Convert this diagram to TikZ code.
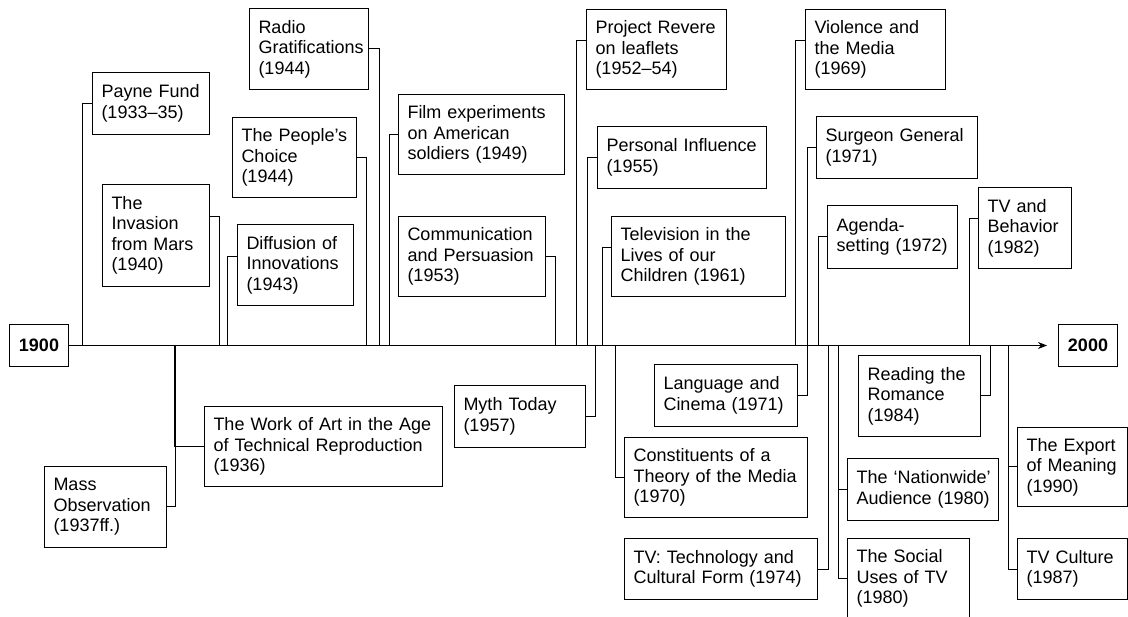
\documentclass[tikz,border=0pt]{standalone}
\usepackage{fontspec}
\setmainfont{Liberation Sans}
\usetikzlibrary{arrows.meta}

\tikzset{
  evbox/.style 2 args={draw, line width=1pt, anchor=north west, align=left,
    inner xsep=9pt, inner ysep=0pt, text width=#1pt-18pt, minimum height=#2pt,
    font=\fontsize{18}{20.5}\selectfont},
  yearbox/.style={draw, line width=1pt, anchor=north west, align=center,
    inner sep=0pt, minimum width=59pt, minimum height=42pt,
    font=\fontsize{18}{20.5}\selectfont\bfseries},
  link/.style={line width=1pt}
}

\begin{document}
\begin{tikzpicture}[x=1pt, y=-1pt]
    \useasboundingbox (0,0) rectangle (1128,617);
    % years
    \node[yearbox] (y1900) at (9,324) {1900};
    \node[yearbox] (y2000) at (1058,324) {2000};
    % above the line
    \node[evbox={117}{62}] (payne) at (92,72) {Payne Fund\\(1933–35)};
    \node[evbox={119}{81}] (radio) at (249,8) {Radio\\Gratifications\\(1944)};
    \node[evbox={124}{80}] (people) at (232,117) {The People’s\\Choice\\(1944)};
    \node[evbox={107}{102}] (invasion) at (102,184) {The\\Invasion\\from Mars\\(1940)};
    \node[evbox={116}{81}] (diffusion) at (237,224) {Diffusion of\\Innovations\\(1943)};
    \node[evbox={166}{80}] (film) at (398,94) {Film experiments\\on American\\soldiers (1949)};
    \node[evbox={147}{80}] (comm) at (398,216) {Communication\\and Persuasion\\(1953)};
    \node[evbox={140}{80}] (project) at (586,9) {Project Revere\\on leaflets\\(1952–54)};
    \node[evbox={169}{62}] (personal) at (597,126) {Personal Influence\\(1955)};
    \node[evbox={174}{80}] (television) at (611,216) {Television in the\\Lives of our\\Children (1961)};
    \node[evbox={140}{80}] (violence) at (805,9) {Violence and\\the Media\\(1969)};
    \node[evbox={161}{62}] (surgeon) at (816,116) {Surgeon General\\(1971)};
    \node[evbox={130}{63}] (agenda) at (827,205) {Agenda-\\setting (1972)};
    \node[evbox={93}{81}] (tvbeh) at (978,187) {TV and\\Behavior\\(1982)};
    % below the line
    \node[evbox={238}{80}] (workart) at (204,406) {The Work of Art in the Age\\of Technical Reproduction\\(1936)};
    \node[evbox={122}{81}] (massobs) at (44,466) {Mass\\Observation\\(1937ff.)};
    \node[evbox={131}{62}] (myth) at (454,385) {Myth Today\\(1957)};
    \node[evbox={143}{62}] (language) at (654,364) {Language and\\Cinema (1971)};
    \node[evbox={183}{80}] (constituents) at (624,437) {Constituents of a\\Theory of the Media\\(1970)};
    \node[evbox={193}{61}] (tvtech) at (624,538) {TV: Technology and\\Cultural Form (1974)};
    \node[evbox={122}{81}] (reading) at (858,355) {Reading the\\Romance\\(1984)};
    \node[evbox={151}{62}] (nationwide) at (847,458) {\mbox{The ‘Nationwide’}\\\mbox{Audience (1980)}};
    \node[evbox={122}{80}] (social) at (847,538) {The Social\\Uses of TV\\(1980)};
    \node[evbox={110}{79}] (export) at (1017,427) {The Export\\of Meaning\\(1990)};
    \node[evbox={110}{61}] (tvculture) at (1017,538) {TV Culture\\(1987)};
    % time line
    \draw[link, -{Stealth[length=9pt,width=7pt]}, shorten >=11pt] (y1900.east) -- (y2000.west);
    \foreach \a/\dx/\dy in {payne.west/-10/0, radio.east/10/0, people.east/9/0,
        invasion.east/9/19, diffusion.west/-10/8.5, film.west/-9/0, comm.east/9/0,
        project.west/-10/9, personal.west/-10/0, television.west/-9/9,
        violence.west/-10/9, surgeon.west/-9/0, agenda.west/-9/0, tvbeh.west/-9/9.5,
        workart.west/-30/0, massobs.east/8/0, myth.east/9/0, language.east/9/0,
        constituents.west/-9/0, tvtech.east/10.5/0, reading.east/9/0,
        nationwide.west/-9/0, social.west/-9/0, export.west/-9/0, tvculture.west/-9/0}
      \draw[link] ([yshift=\dy pt]\a) -- ++(\dx,0) coordinate (t) -- (t |- y1900.east);
\end{tikzpicture}
\end{document}
